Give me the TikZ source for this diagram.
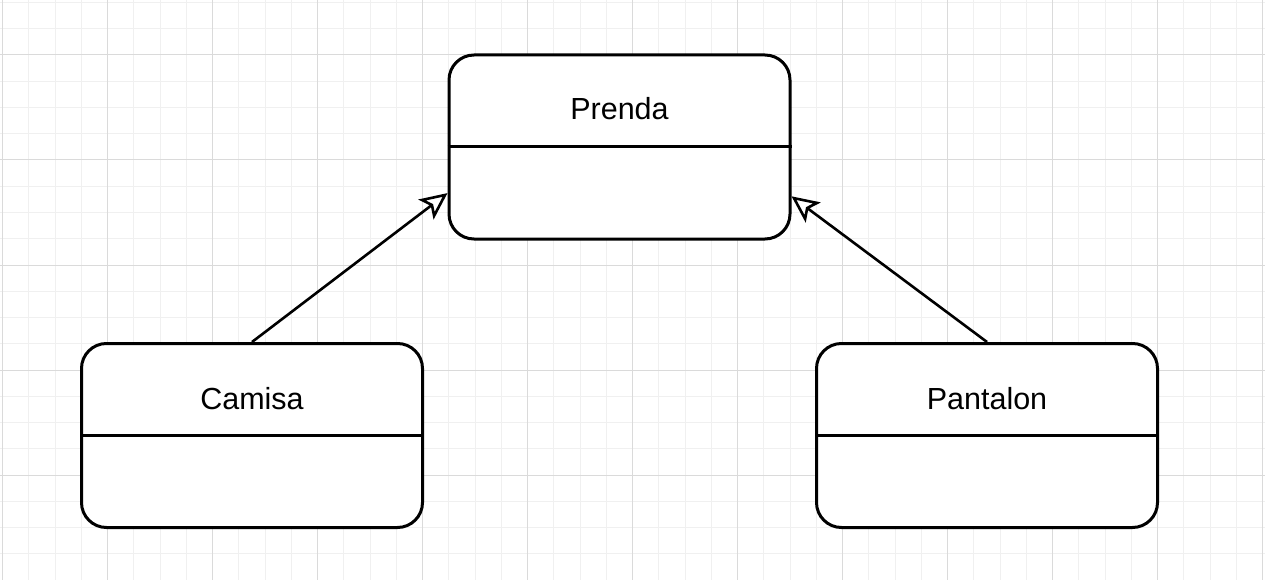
\documentclass[tikz,border=0pt]{standalone}
\usepackage{fontspec}
\setmainfont{Liberation Sans}
\usetikzlibrary{arrows.meta}
\definecolor{gridminor}{HTML}{F0F0F0}
\definecolor{gridmajor}{HTML}{DADADA}

\begin{document}
\begin{tikzpicture}[x=1pt, y=-1pt,
  classbox/.style={draw, line width=3pt, rounded corners=25pt, fill=white,
    minimum width=341pt, minimum height=184pt, inner sep=0pt},
  classname/.style={anchor=base, font=\fontsize{30.5}{36}\selectfont},
  inherits/.style={line width=2.6pt, -{Stealth[open, length=27pt, width=25pt, inset=6pt, line width=2.6pt]}}]
\useasboundingbox (0,0) rectangle (1265,580);
\fill [white] (0,0) rectangle (1265,580);
\foreach \i in {0,...,48} \draw [gridminor, line width=1pt] ({2.5+\i*26.25},0) -- ({2.5+\i*26.25},580);
\foreach \j in {0,...,22} \draw [gridminor, line width=1pt] (0,{2.5+\j*26.25}) -- (1265,{2.5+\j*26.25});
\foreach \i in {0,...,12} \draw [gridmajor, line width=1pt] ({2.5+\i*105},0) -- ({2.5+\i*105},580);
\foreach \j in {0,...,5} \draw [gridmajor, line width=1pt] (0,{-50+\j*105}) -- (1265,{-50+\j*105});

\node [classbox] (prenda) at (619.5,147) {};
\node [classbox] (camisa) at (252,435.5) {};
\node [classbox] (pantalon) at (987,435.5) {};

\draw [line width=3pt] (prenda.west) -- (prenda.east);
\draw [line width=3pt] (camisa.west) -- (camisa.east);
\draw [line width=3pt] (pantalon.west) -- (pantalon.east);

\node [classname] (prendaName) at ([yshift=-66pt]prenda.north) {Prenda};
\node [classname] (camisaName) at ([yshift=-67pt]camisa.north) {Camisa};
\node [classname] (pantalonName) at ([yshift=-67pt]pantalon.north) {Pantalon};

\draw [inherits] (camisa.north) -- (prenda.195.4);
\draw [inherits] (pantalon.north) -- (prenda.344.6);
\end{tikzpicture}
\end{document}
